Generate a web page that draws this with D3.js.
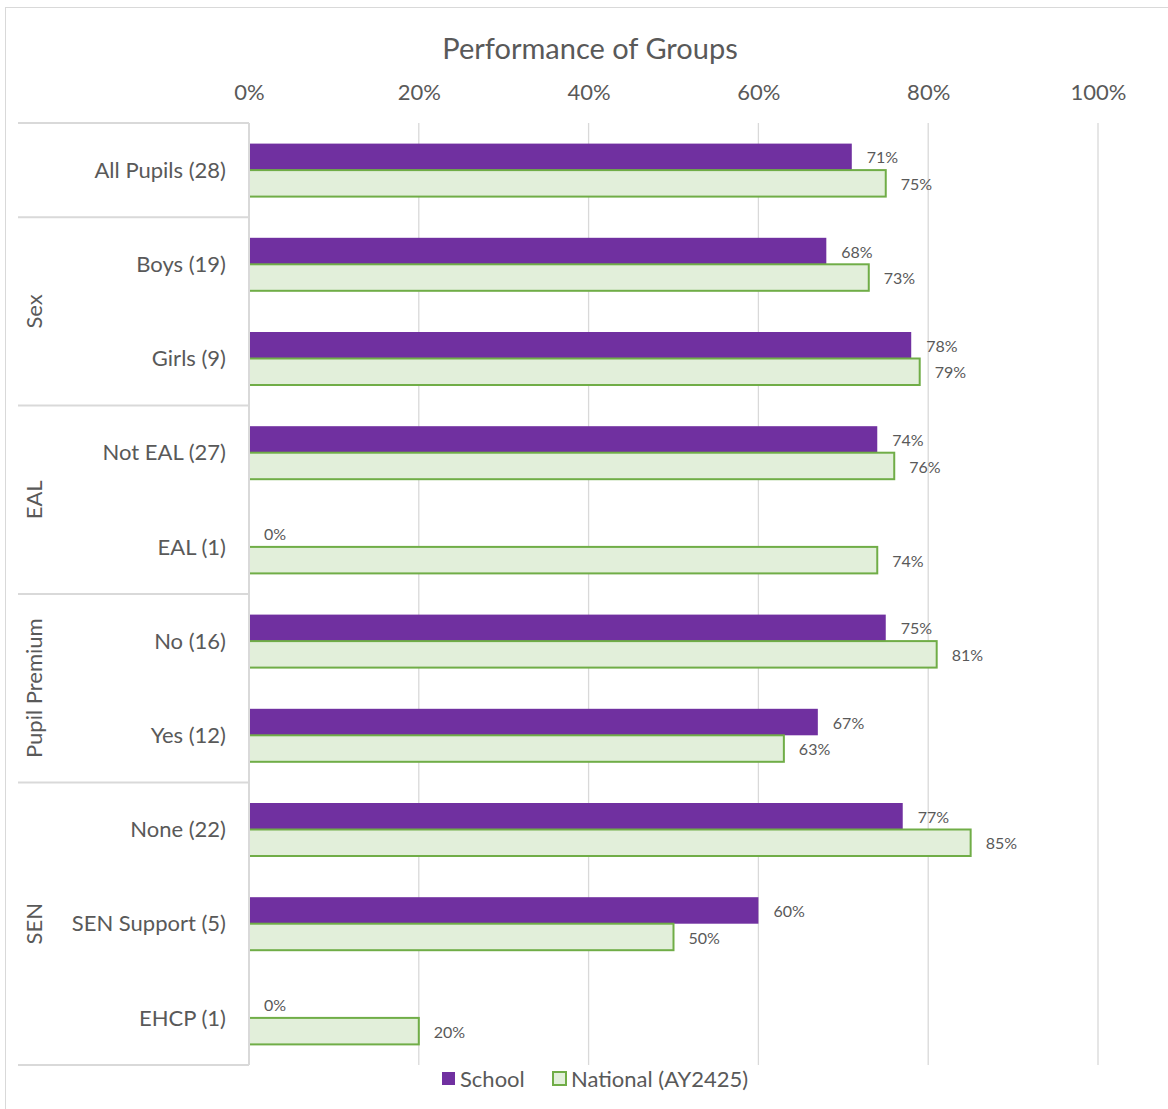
<!DOCTYPE html>
<html>
<head>
<meta charset="utf-8">
<script src="https://cdn.jsdelivr.net/npm/d3@7"></script>
<style>
  body { margin: 0; background: #fff; }
  text { font-family: Lato, "Open Sans", sans-serif; fill: #595959; }
</style>
</head>
<body>
<div id="chart"></div>
<script>
const categories = ["All Pupils (28)", "Boys (19)", "Girls (9)", "Not EAL (27)", "EAL (1)",
                    "No (16)", "Yes (12)", "None (22)", "SEN Support (5)", "EHCP (1)"];
const groups = ["", "Sex", "EAL", "Pupil Premium", "SEN"];
const groupSizes = [1, 2, 2, 2, 3];
const schoolValues = [0.71, 0.68, 0.78, 0.74, 0.00, 0.75, 0.67, 0.77, 0.60, 0.00];
const nationalValues = [0.75, 0.73, 0.79, 0.76, 0.74, 0.81, 0.63, 0.85, 0.50, 0.20];
const seriesNames = ["School", "National (AY2425)"];
const tickValues = [0, 0.2, 0.4, 0.6, 0.8, 1.0];

const width = 1168;
const height = 1109;

const svg = d3.select("#chart")
    .append("svg")
    .attr("width", width)
    .attr("height", height);

// chart border
svg.append("rect")
    .attr("x", 5.5).attr("y", 7.5)
    .attr("width", width - 4).attr("height", height)
    .attr("fill", "none")
    .attr("stroke", "#d9d9d9");

const x = d3.scaleLinear().domain([0, 1]).range([249, 1098]);
const y = d3.scaleBand().domain(categories).range([123, 1065]);
const inner = d3.scaleBand().domain(seriesNames)
    .range([0, 53]);
const pad = (y.bandwidth() - 53) / 2;

// title
svg.append("text")
    .attr("x", 590).attr("y", 59)
    .attr("text-anchor", "middle")
    .style("font-size", "29px")
    .text("Performance of Groups");

// gridlines
svg.append("g")
    .selectAll("line")
    .data(tickValues)
    .enter()
    .append("line")
    .attr("x1", d => x(d)).attr("x2", d => x(d))
    .attr("y1", 123).attr("y2", 1065)
    .attr("stroke", "#d9d9d9")
    .attr("stroke-width", 1.3);

// top axis
const axis = svg.append("g")
    .attr("transform", "translate(0,100)")
    .call(d3.axisTop(x).tickValues(tickValues).tickFormat(d3.format(".0%")).tickSize(0).tickPadding(0));
axis.select(".domain").remove();
axis.selectAll("text")
    .style("font-family", "Lato, sans-serif")
    .style("font-size", "22px")
    .attr("fill", "#595959")
    .attr("dy", 0);

// group separators
let start = 0;
const bounds = [0];
groupSizes.forEach(n => { start += n; bounds.push(start); });

svg.append("g")
    .selectAll("line")
    .data(bounds)
    .enter()
    .append("line")
    .attr("x1", 18).attr("x2", x(0))
    .attr("y1", d => 123 + d * y.step())
    .attr("y2", d => 123 + d * y.step())
    .attr("stroke", "#d9d9d9")
    .attr("stroke-width", 2);

svg.append("g")
    .selectAll("text")
    .data(groups.map((g, i) => ({ name: g, from: bounds[i], to: bounds[i + 1] })))
    .enter()
    .append("text")
    .attr("transform", d => `translate(42,${123 + (d.from + d.to) / 2 * y.step()}) rotate(-90)`)
    .attr("text-anchor", "middle")
    .style("font-size", "22px")
    .text(d => d.name);

// category labels
svg.append("g")
    .selectAll("text")
    .data(categories)
    .enter()
    .append("text")
    .attr("x", 226)
    .attr("y", d => y(d) + y.bandwidth() / 2)
    .attr("dy", "0.35em")
    .attr("text-anchor", "end")
    .style("font-size", "22px")
    .text(d => d);

// bars
const rows = categories.map((c, i) => ({ cat: c, vals: [schoolValues[i], nationalValues[i]] }));

const rowG = svg.append("g")
    .selectAll("g")
    .data(rows)
    .enter()
    .append("g")
    .attr("transform", d => `translate(0,${y(d.cat) + pad})`);

rowG.selectAll("rect")
    .data(d => d.vals.map((v, j) => ({ s: seriesNames[j], v })))
    .enter()
    .append("rect")
    .attr("x", x(0))
    .attr("y", d => inner(d.s))
    .attr("width", d => x(d.v) - x(0))
    .attr("height", inner.bandwidth())
    .attr("fill", d => d.s === "School" ? "#7030a0" : "#e2efda")
    .attr("stroke", d => d.s === "School" ? "none" : "#70ad47")
    .attr("stroke-width", 2);

rowG.selectAll("text")
    .data(d => d.vals.map((v, j) => ({ s: seriesNames[j], v })))
    .enter()
    .append("text")
    .attr("x", d => x(d.v) + 15)
    .attr("y", d => inner(d.s) + inner.bandwidth() / 2 + 1)
    .attr("dy", "0.35em")
    .style("font-size", "16px")
    .attr("fill", "#404040")
    .text(d => d3.format(".0%")(d.v));

// vertical axis line
svg.append("line")
    .attr("x1", x(0)).attr("x2", x(0))
    .attr("y1", 123).attr("y2", 1065)
    .attr("stroke", "#d9d9d9")
    .attr("stroke-width", 2);

// legend
const legend = svg.append("g");
const legendX = [441, 552];
seriesNames.forEach((s, i) => {
    legend.append("rect")
        .attr("x", legendX[i] + 1).attr("y", 1072)
        .attr("width", 13).attr("height", 13)
        .attr("fill", i === 0 ? "#7030a0" : "#e2efda")
        .attr("stroke", i === 0 ? "none" : "#70ad47")
        .attr("stroke-width", 2);
    legend.append("text")
        .attr("x", legendX[i] + 19).attr("y", 1079)
        .attr("dy", "0.35em")
        .style("font-size", "22px")
        .text(s);
});
</script>
</body>
</html>
